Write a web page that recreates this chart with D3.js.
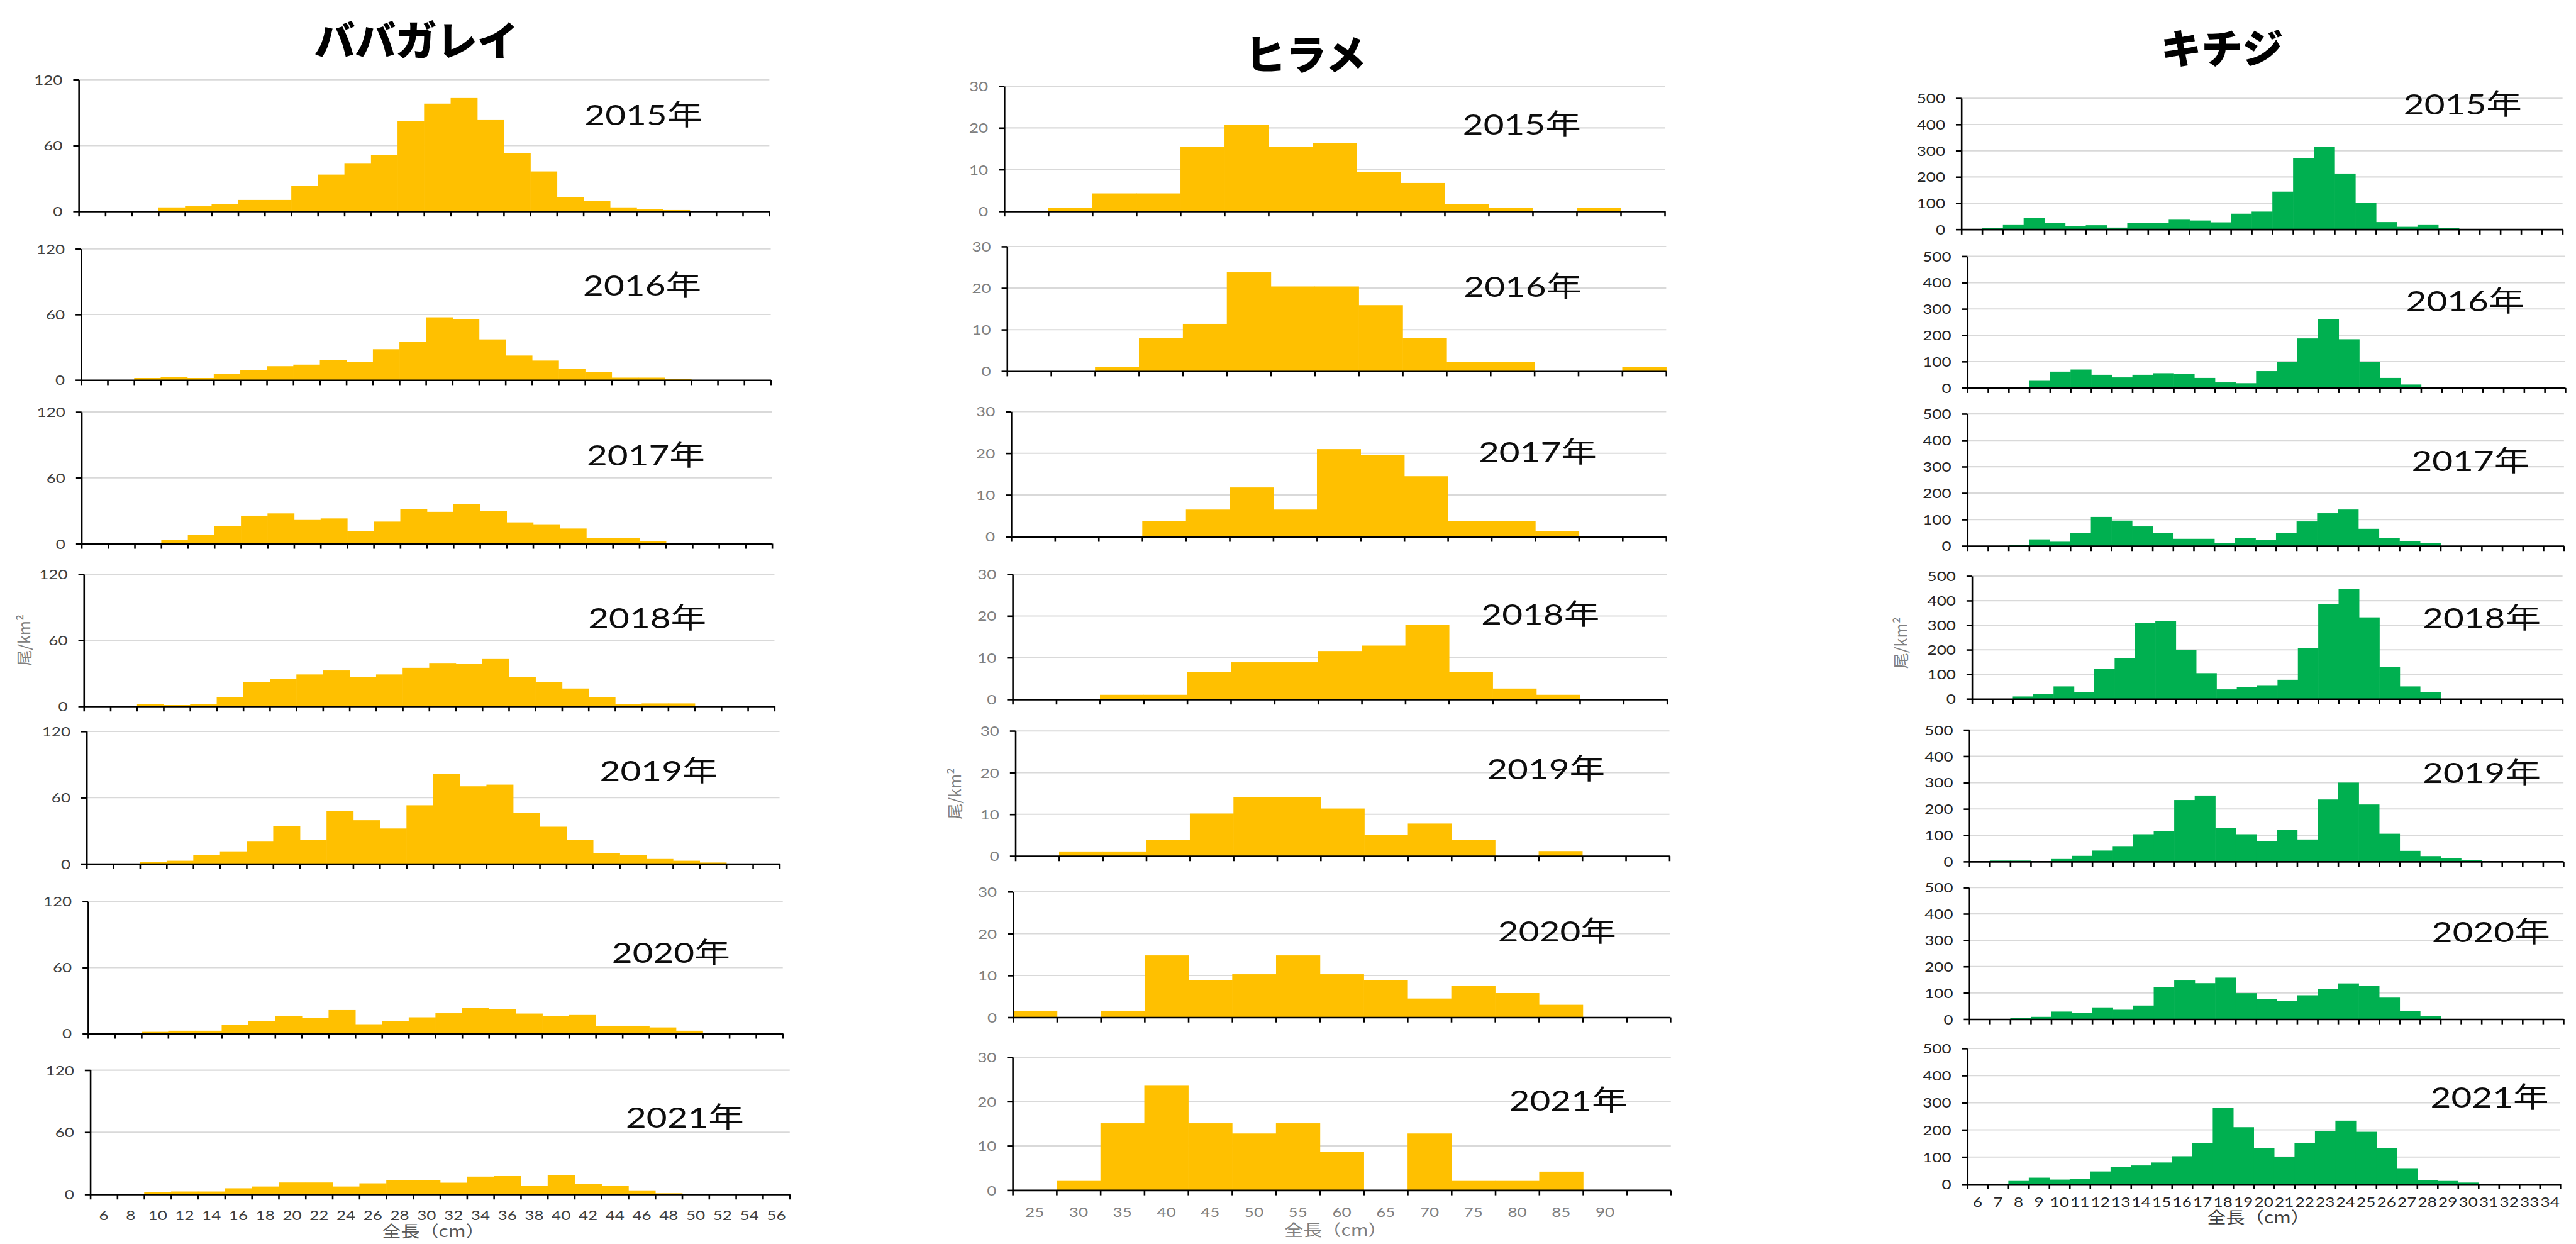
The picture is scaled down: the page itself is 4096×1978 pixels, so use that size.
<!DOCTYPE html>
<html><head><meta charset="utf-8">
<script src="https://cdn.jsdelivr.net/npm/d3@7"></script>
<style>html,body{margin:0;padding:0;background:#fff;}svg{display:block;}</style>
</head><body>
<script>
// ---------------- DATA ----------------
const years = ["2015年","2016年","2017年","2018年","2019年","2020年","2021年"];

// ババガレイ (2 cm bins)
const bbgBins = ["6","8","10","12","14","16","18","20","22","24","26","28","30","32","34","36","38","40","42","44","46","48","50","52","54","56"];
const bbgTicks = [0,60,120];
const bbg2015 = [0,0,0,3.6,4.6,6.5,10.4,10.4,23,33.5,44,51.6,82.4,98.2,103.3,83.2,53,36.4,12.8,9.7,3.6,2.2,1.2,0,0,0];
const bbg2016 = [0,0,1.9,2.9,1.9,5.8,8.8,12.7,14.1,18.5,16.3,28.2,35,57.4,55.5,37.2,22.4,17.8,10.2,7.3,2.2,2.2,1.2,0,0,0];
const bbg2017 = [0,0,0,3.6,8,15.8,25.5,27.6,21.6,23,11.2,20.1,31.5,29,35.9,29.8,19.4,17.7,13.8,5.1,5.1,2.2,0,0,0,0];
const bbg2018 = [0,0,1.9,1.2,1.9,8.2,22.2,25.1,29,32.6,26.8,29,35,39.4,38.4,43,26.8,22.2,16.2,8.2,1.9,2.7,2.7,0,0,0];
const bbg2019 = [0,0,1.9,2.9,8.2,11.4,20.2,34,21.8,48,39.6,32.1,53.1,81.4,70.3,71.8,46.5,33.7,21.8,9.6,8.2,4.5,2.9,1.3,0,0];
const bbg2020 = [0,0,1.6,2.6,2.6,7.9,11.6,16.1,14.5,21.4,8.5,11.6,14.8,18.5,23.5,22.5,18.2,16.1,16.9,7.1,7.1,5.6,2.6,0,0,0];
const bbg2021 = [0,0,2,2.8,2.8,5.9,7.6,11.5,11.5,7.6,10.7,13.5,13.5,11.3,17.2,17.7,8.5,18.6,9.9,8.2,3.9,1.1,0,0,0,0];

// ヒラメ (5 cm bins)
const hirBins = ["25","30","35","40","45","50","55","60","65","70","75","80","85","90",""];
const hirTicks = [0,10,20,30];
const hir2015 = [0,0.8,4.3,4.3,15.5,20.7,15.5,16.4,9.4,6.8,1.7,0.8,0,0.8,0];
const hir2016 = [0,0,1,8,11.4,23.8,20.4,20.4,15.9,8,2.2,2.2,0,0,1];
const hir2017 = [0,0,0,3.8,6.5,11.8,6.5,21,19.6,14.5,3.8,3.8,1.4,0,0];
const hir2018 = [0,0,1.1,1.1,6.5,8.9,8.9,11.6,12.9,17.9,6.5,2.6,1.1,0,0];
const hir2019 = [0,1.1,1.1,3.9,10.2,14.1,14.1,11.4,5.1,7.8,3.9,0,1.2,0,0];
const hir2020 = [1.6,0,1.6,14.8,8.9,10.3,14.8,10.3,8.9,4.5,7.5,5.8,3,0,0];
const hir2021 = [0,2.1,15.1,23.7,15.1,12.8,15.1,8.6,0,12.8,2.1,2.1,4.2,0,0];

// キチジ (1 cm bins)
const kcjBins = ["6","7","8","9","10","11","12","13","14","15","16","17","18","19","20","21","22","23","24","25","26","27","28","29","30","31","32","33","34"];
const kcjTicks = [0,100,200,300,400,500];
const kcj2015 = [0,5,19,45,25,13,16,7,25,25,37,34,27,60,68,144,272,315,213,102,28,10,19,5,0,0,0,0,0];
const kcj2016 = [0,0,0,27,62,70,50,40,50,56,53,38,21,18,64,98,188,262,185,98,38,13,0,0,0,0,0,0,0];
const kcj2017 = [0,0,5,25,16,50,110,96,74,48,27,27,12,30,22,50,93,124,138,65,30,19,10,0,0,0,0,0,0];
const kcj2018 = [0,0,10,21,51,29,123,165,310,316,199,105,39,48,56,78,207,387,447,332,129,51,29,0,0,0,0,0,0];
const kcj2019 = [0,4,4,0,10,22,42,59,104,115,234,251,129,104,78,120,84,236,300,217,106,41,21,13,7,0,0,0,0];
const kcj2020 = [0,0,4,9,29,23,45,36,52,121,147,137,158,99,76,70,91,114,136,127,82,31,13,0,0,0,0,0,0];
const kcj2021 = [0,0,12,24,17,20,47,64,69,80,103,152,281,210,133,100,152,195,234,193,133,59,15,12,6,0,0,0,0];

const titles = ["ババガレイ","ヒラメ","キチジ"];
const yTitle = "尾/km²";
const xTitle = "全長（cm）";

// ---------------- LAYOUT (reference pixel space 5558x2684) ----------------
const columns = [
  { title: titles[0], bins: bbgBins, ticks: bbgTicks, series: [bbg2015,bbg2016,bbg2017,bbg2018,bbg2019,bbg2020,bbg2021],
    color: "#FFC000", labelColor: "#404040", xTitleColor: "#595959",
    panels: [[170,1660,172,456],[175,1663,537,820],[176,1666,889,1173],[181,1671,1239,1524],[187,1682,1578,1864],[190,1689,1945,2230],[195,1704,2309,2577]],
    yearPos: [[1261,270],[1258,638],[1266,1004],[1269,1355],[1294,1685],[1320,2077],[1350,2433]],
    titlePos: [898,120], yTitlePos: [50,1381], xTitlePos: [935,2669], xLabelBase: 2632 },
  { title: titles[1], bins: hirBins, ticks: hirTicks, series: [hir2015,hir2016,hir2017,hir2018,hir2019,hir2020,hir2021],
    color: "#FFC000", labelColor: "#808080", xTitleColor: "#808080",
    panels: [[2167,3592,186,456],[2173,3595,532,801],[2182,3595,888,1158],[2185,3597,1239,1509],[2191,3602,1577,1847],[2186,3604,1924,2195],[2185,3605,2281,2568]],
    yearPos: [[3156,290],[3158,641],[3190,998],[3196,1347],[3208,1681],[3232,2031],[3256,2397]],
    titlePos: [2817,151], yTitlePos: [2058,1712], xTitlePos: [2882,2666], xLabelBase: 2626 },
  { title: titles[2], bins: kcjBins, ticks: kcjTicks, series: [kcj2015,kcj2016,kcj2017,kcj2018,kcj2019,kcj2020,kcj2021],
    color: "#00B050", labelColor: "#262626", xTitleColor: "#404040",
    panels: [[4232,5529,212,495],[4245,5535,553,837],[4245,5532,893,1178],[4255,5529,1243,1508],[4249,5531,1575,1859],[4249,5531,1915,2199],[4245,5524,2262,2555]],
    yearPos: [[5186,247],[5191,672],[5203,1016],[5227,1356],[5227,1689],[5247,2033],[5244,2390]],
    titlePos: [4794,137], yTitlePos: [4099,1387], xTitlePos: [4873,2639], xLabelBase: 2604 }
];

const REF_W = 5558, OUT_W = 4096, OUT_H = 1978;
const S = OUT_W / REF_W;
const NUM_FONT = "Lato, 'Noto Sans CJK JP', sans-serif";
const JP_FONT = "'Noto Sans CJK JP', sans-serif";
const TICK_FS = 29, TICK_SX = 1.22;
const YEAR_FS = 61, YEAR_SX = 1.26;

const svg = d3.select("body").append("svg").attr("width", OUT_W).attr("height", OUT_H);
svg.append("rect").attr("width", OUT_W).attr("height", OUT_H).attr("fill", "#fff");
const root = svg.append("g").attr("transform", `scale(${S})`);

columns.forEach(col => {
  const g = root.append("g");
  const n = col.bins.length;
  const max = col.ticks[col.ticks.length - 1];

  // column title
  g.append("text").attr("x", col.titlePos[0]).attr("y", col.titlePos[1])
    .attr("text-anchor", "middle").attr("font-family", JP_FONT).attr("font-weight", 900)
    .attr("font-size", 88).attr("fill", "#000").text(col.title);

  col.series.forEach((vals, i) => {
    const [x0, x1, top, bot] = col.panels[i];
    const x = d3.scaleBand().domain(d3.range(n)).range([x0, x1]).padding(0);
    const xl = d3.scaleLinear().domain([0, n]).range([x0, x1]);
    const y = d3.scaleLinear().domain([0, max]).range([bot, top]);
    const p = g.append("g");

    // gridlines
    p.append("g").selectAll("line").data(col.ticks.filter(t => t > 0)).join("line")
      .attr("x1", x0).attr("x2", x1).attr("y1", d => y(d)).attr("y2", d => y(d))
      .attr("stroke", "#D9D9D9").attr("stroke-width", 2.8);

    // bars
    p.append("g").selectAll("rect").data(vals).join("rect")
      .attr("x", (d, j) => x(j)).attr("width", x.bandwidth() + 0.8)
      .attr("y", d => y(d)).attr("height", d => y(0) - y(d))
      .attr("fill", col.color);

    // y axis
    const ya = p.append("g").attr("transform", `translate(${x0},0)`)
      .call(d3.axisLeft(y).tickValues(col.ticks).tickSize(12).tickSizeOuter(0).tickFormat(d3.format("d")));
    ya.select(".domain").attr("stroke", "#000").attr("stroke-width", 3.5);
    ya.selectAll(".tick line").attr("stroke", "#000").attr("stroke-width", 3.5);
    ya.selectAll(".tick text").attr("x", 0).attr("dy", "0.36em")
      .attr("transform", `translate(-35,0) scale(${TICK_SX},1)`)
      .attr("font-family", NUM_FONT).attr("font-size", TICK_FS).attr("fill", col.labelColor);

    // x axis: ticks at bin boundaries
    const xa = p.append("g").attr("transform", `translate(0,${bot})`)
      .call(d3.axisBottom(xl).tickValues(d3.range(n + 1)).tickSize(11).tickSizeOuter(0).tickFormat(""));
    xa.select(".domain").attr("stroke", "#000").attr("stroke-width", 3.5);
    xa.selectAll(".tick line").attr("stroke", "#000").attr("stroke-width", 3.5);

    // category labels on bottom panel only
    if (i === col.series.length - 1) {
      const xb = p.append("g").attr("transform", `translate(0,${bot})`)
        .call(d3.axisBottom(x).tickSize(0).tickFormat(j => col.bins[j]));
      xb.select(".domain").remove();
      xb.selectAll(".tick text").attr("y", 0).attr("dy", null)
        .attr("transform", `translate(0,${col.xLabelBase - bot}) scale(${TICK_SX},1)`)
        .attr("font-family", NUM_FONT).attr("font-size", TICK_FS).attr("fill", col.labelColor);
    }

    // year label
    p.append("text")
      .attr("transform", `translate(${col.yearPos[i][0]},${col.yearPos[i][1]}) scale(${YEAR_SX},1)`)
      .attr("font-family", NUM_FONT).attr("font-size", YEAR_FS).attr("fill", "#0d0d0d")
      .text(years[i]);
  });

  // axis titles
  g.append("text")
    .attr("transform", `translate(${col.yTitlePos[0]},${col.yTitlePos[1]}) rotate(-90)`)
    .attr("text-anchor", "middle").attr("dominant-baseline", "central")
    .attr("font-family", JP_FONT).attr("font-size", 34).attr("fill", "#808080").text(yTitle);
  g.append("text")
    .attr("transform", `translate(${col.xTitlePos[0]},${col.xTitlePos[1]}) scale(1.2,1)`)
    .attr("text-anchor", "middle").attr("font-family", JP_FONT).attr("font-size", 34)
    .attr("fill", col.xTitleColor).text(xTitle);
});
</script>
</body></html>
